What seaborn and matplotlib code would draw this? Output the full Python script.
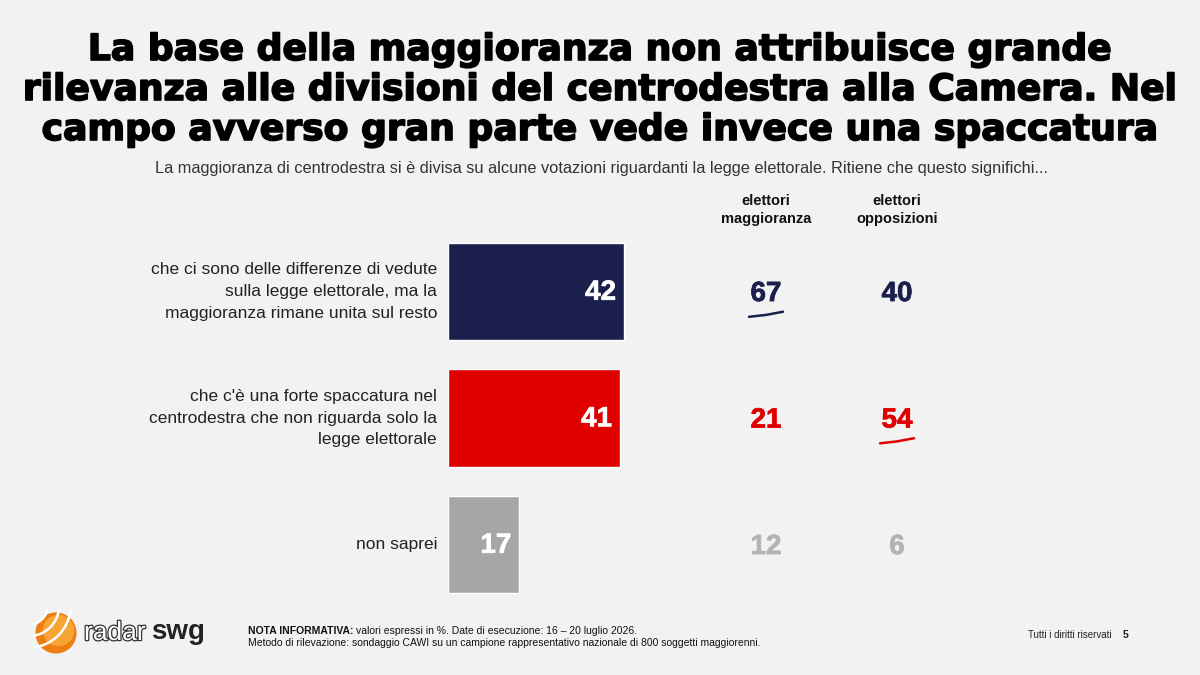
import matplotlib
matplotlib.use("Agg")
import matplotlib.pyplot as plt
import matplotlib.patheffects as pe
import matplotlib.transforms as mtransforms
from matplotlib.patches import Circle, Arc
import seaborn as sns
import pandas as pd

# data
risposte = [
    "che ci sono delle differenze di vedute\nsulla legge elettorale, ma la\nmaggioranza rimane unita sul resto",
    "che c'è una forte spaccatura nel\ncentrodestra che non riguarda solo la\nlegge elettorale",
    "non saprei",
]
totale = [42, 41, 17]
maggioranza = [67, 21, 12]
opposizioni = [40, 54, 6]
colori = ["#1b1f4b", "#e00000", "#a6a6a6"]
colori_testo = ["#1b1f4b", "#e00000", "#b3b3b3"]
sottolineati = [(0, "magg"), (1, "opp")]  # the hand-drawn underlines

titolo = ["La base della maggioranza non attribuisce grande",
          "rilevanza alle divisioni del centrodestra alla Camera. Nel",
          "campo avverso gran parte vede invece una spaccatura"]
sottotitolo = ("La maggioranza di centrodestra si è divisa su alcune votazioni riguardanti "
               "la legge elettorale. Ritiene che questo significhi...")

bg = "#f2f2f2"
sns.set_theme(style="white", rc={"figure.facecolor": bg, "axes.facecolor": bg})
plt.rcParams["font.family"] = ["Liberation Sans", "DejaVu Sans"]

df = pd.DataFrame({"risposta": risposte, "totale": totale})

fig = plt.figure(figsize=(12, 6.75), dpi=100)
W, H = 1200, 675
# axes: x 0..100 over 419 px starting at 448 px, rows spaced 126.5 px
ax = fig.add_axes([448 / W, 1 - 607.75 / H, 419 / W, 379.5 / H])
sns.barplot(data=df, x="totale", y="risposta", hue="risposta", palette=colori,
            width=0.77, legend=False, ax=ax, saturation=1)
ax.set_xlim(0, 100)
ax.set_ylim(2.5, -0.5)
ax.set_axis_off()


def spesso(c):
    return [pe.withStroke(linewidth=0.5, foreground=c)]


for i, v in enumerate(totale):
    ax.text(v - 1.9, i + 0.01, str(v), ha="right", va="center", color="white",
            fontsize=20, fontweight="bold", path_effects=spesso("white"))
    ax.text(-2.6, i, risposte[i], ha="right", va="center", color="#222222",
            fontsize=12.5, linespacing=1.55)

# side columns
tr = mtransforms.blended_transform_factory(fig.transFigure, ax.transData)
col_x = {"magg": 766 / W, "opp": 897 / W}
for i in range(len(risposte)):
    ax.text(col_x["magg"], i + 0.02, str(maggioranza[i]), transform=tr, ha="center",
            va="center", color=colori_testo[i], fontsize=20, fontweight="bold",
            path_effects=spesso(colori_testo[i]))
    ax.text(col_x["opp"], i + 0.02, str(opposizioni[i]), transform=tr, ha="center",
            va="center", color=colori_testo[i], fontsize=20, fontweight="bold",
            path_effects=spesso(colori_testo[i]))
for i, c in sottolineati:
    x0 = col_x[c]
    ax.plot([x0 - 17 / W, x0, x0 + 17 / W], [i + 0.2, i + 0.185, i + 0.16], transform=tr,
            color=colori_testo[i], lw=1.8, solid_capstyle="round", clip_on=False)

fig.text(col_x["magg"], 1 - 210 / H, "elettori\nmaggioranza", ha="center", va="center",
         fontsize=10.5, fontweight="bold", color="#111111", linespacing=1.35)
fig.text(col_x["opp"], 1 - 210 / H, "elettori\nopposizioni", ha="center", va="center",
         fontsize=10.5, fontweight="bold", color="#111111", linespacing=1.35)

# title: heavy wide sans, three centred lines, widest line ~1155 px
renderer = fig.canvas.get_renderer()
righe = []
for k, riga in enumerate(titolo):
    t = fig.text(0.5, 1 - (50 + 40 * k) / H, riga, ha="center", va="center", fontsize=26,
                 fontweight="bold", color="black", family=["DejaVu Sans"],
                 path_effects=[pe.withStroke(linewidth=1.2, foreground="black")])
    righe.append(t)
largh = max(t.get_window_extent(renderer).width for t in righe)
for t in righe:
    t.set_fontsize(min(26 * 1155 / largh, 28))

fig.text(0.501, 1 - 168 / H, sottotitolo, ha="center", va="center",
         fontsize=11.8, color="#333333")

# footer
nota = fig.text(248 / W, 1 - 631 / H, "NOTA INFORMATIVA:", fontsize=7.5, fontweight="bold",
                va="center", color="#111111")
wn = nota.get_window_extent(renderer).width
fig.text((248 + wn + 3) / W, 1 - 631 / H,
         "valori espressi in %. Date di esecuzione: 16 – 20 luglio 2026.",
         fontsize=7.5, va="center", color="#111111")
fig.text(248 / W, 1 - 643 / H,
         "Metodo di rilevazione: sondaggio CAWI su un campione rappresentativo nazionale "
         "di 800 soggetti maggiorenni.", fontsize=7.5, va="center", color="#111111")
fig.text(1028 / W, 1 - 635 / H, "Tutti i diritti riservati", fontsize=7, va="center",
         color="#222222")
fig.text(1123 / W, 1 - 635 / H, "5", fontsize=7.5, fontweight="bold", va="center",
         color="#222222")

# logo
lax = fig.add_axes([32 / W, 1 - 656 / H, 48 / W, 46 / H])
lax.set_xlim(-1.1, 1.1)
lax.set_ylim(-1.1, 1.1)
lax.set_aspect("equal")
lax.set_axis_off()
lax.add_patch(Circle((0, 0), 0.95, color="#ee7d12"))
lax.add_patch(Circle((0.12, 0.12), 0.72, color="#f7a435"))
for r in [0.9, 1.45, 2.0]:
    lax.add_patch(Arc((-1.3, 1.3), 2 * r, 2 * r, theta1=275, theta2=355, color="white", lw=1.8))
fig.text(84 / W, 1 - 633 / H, "radar", fontsize=19, color="white", va="center",
         path_effects=[pe.withStroke(linewidth=1.8, foreground="#333333")])
fig.text(151 / W, 1 - 632 / H, "swg", fontsize=20, fontweight="bold", color="#222222",
         va="center")

fig.savefig("out.png", dpi=100, facecolor=bg)
